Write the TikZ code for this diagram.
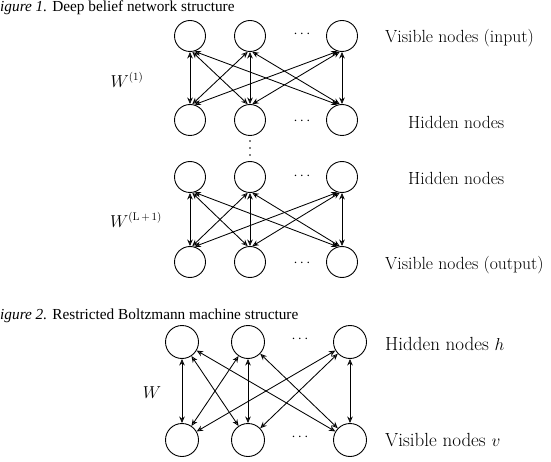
\documentclass[tikz,border=0pt]{standalone}
\usepackage{fontspec}
\usetikzlibrary{arrows.meta}
\newfontfamily\capfont{Liberation Serif}
\begin{document}
\begin{tikzpicture}[x=1pt,y=-1pt,
  neuronA/.style={circle,draw,line width=0.9pt,minimum size=31pt,inner sep=0pt},
  neuronB/.style={circle,draw,line width=0.9pt,minimum size=33pt,inner sep=0pt},
  conn/.style={line width=0.85pt,{Stealth[open,length=6.5pt,width=5.5pt]}-{Stealth[open,length=6.5pt,width=5.5pt]}},
  lab/.style={anchor=west,inner sep=0pt,font=\fontsize{17.6}{20}\selectfont},
  labB/.style={anchor=west,inner sep=0pt,font=\fontsize{19}{22}\selectfont},
  captext/.style={anchor=west,inner sep=0pt,font=\capfont\fontsize{15.3}{17}\selectfont},
  wlab/.style={inner sep=0pt,font=\fontsize{16}{18}\selectfont},
  hdots/.style={inner sep=0pt,font=\fontsize{14}{16}\selectfont},
  vdot/.style={fill=black}]
\useasboundingbox (0,0) rectangle (551,462);

% Figure 1
\node[captext] (cap1) at (0,8) {\textit{igure 1.} Deep belief network structure};

\foreach \n/\x in {1/190,2/250,3/342}{
  \node[neuronA] (a\n) at (\x,36) {};
  \node[neuronA] (b\n) at (\x,120) {};
  \node[neuronA] (c\n) at (\x,177) {};
  \node[neuronA] (d\n) at (\x,262) {};
}
\node[hdots] (da) at (302,34) {$\cdots$};
\node[hdots] (db) at (302,121) {$\cdots$};
\node[hdots] (dc) at (302,176) {$\cdots$};
\node[hdots] (dd) at (302,263) {$\cdots$};
\foreach \y in {141,148,155}{
  \fill[vdot] (250,\y) circle (0.9pt);
}

\foreach \i in {1,2,3}{
  \foreach \j in {1,2,3}{
    \pgfmathtruncatemacro\sa{270+8*(\j-\i)}
    \pgfmathtruncatemacro\ea{90+8*(\j-\i)}
    \draw[conn] (a\i.\sa) -- (b\j.\ea);
    \draw[conn] (c\i.\sa) -- (d\j.\ea);
  }
}

\node[lab] (l1) at (385,38) {Visible nodes (input)};
\node[lab] (l2) at (408,122) {Hidden nodes};
\node[lab] (l3) at (408,178) {Hidden nodes};
\node[lab] (l4) at (385,265) {Visible nodes (output)};
\node[wlab] (w1) at (127,80) {$W^{(1)}$};
\node[wlab] (w2) at (136,220) {$W^{(\mathrm{L}\,+\,1)}$};

% Figure 2
\node[captext] (cap2) at (0,316) {\textit{igure 2.} Restricted Boltzmann machine structure};
\foreach \n/\x in {1/182,2/248,3/350}{
  \node[neuronB] (h\n) at (\x,342) {};
  \node[neuronB] (v\n) at (\x,440) {};
}
\node[hdots] (dh) at (300,339) {$\cdots$};
\node[hdots] (dv) at (300,437) {$\cdots$};
\foreach \i in {1,2,3}{
  \foreach \j in {1,2,3}{
    \draw[conn] (h\i) -- (v\j);
  }
}
\node[labB] (l5) at (385,344) {Hidden nodes $h$};
\node[labB] (l6) at (385,440) {Visible nodes $v$};
\node[wlab] (w3) at (152,393) {$W$};
\end{tikzpicture}
\end{document}
